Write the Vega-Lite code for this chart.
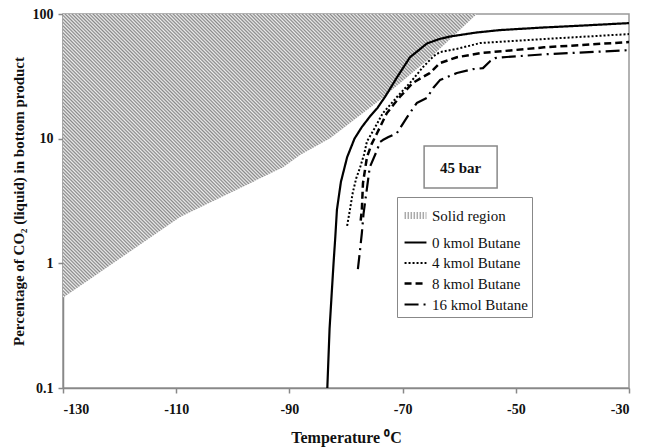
{
"$schema": "https://vega.github.io/schema/vega-lite/v6.json",
"width": 566, "height": 374,
"autosize": {"type": "none"},
"padding": {"left": 63, "top": 14, "right": 22, "bottom": 59},
"background": "white",
"config": {
  "view": {"stroke": "#999", "strokeWidth": 1.5},
  "font": "Liberation Serif",
  "axis": {"domainColor": "#888", "domainWidth": 1.5, "tickColor": "#888", "tickWidth": 1.5, "tickSize": 5, "grid": false,
    "labelFont": "Liberation Serif", "labelFontSize": 14, "labelFontWeight": "bold", "labelColor": "#111",
    "titleFont": "Liberation Serif", "titleFontWeight": "bold", "titleFontSize": 15, "titleColor": "#111"},
  "legend": {"orient": "none", "legendX": 334, "legendY": 183, "symbolType": "stroke", "symbolSize": 480,
    "labelFont": "Liberation Serif", "labelFontSize": 15, "labelColor": "#111", "strokeColor": "#888", "fillColor": "white",
    "padding": 4, "rowPadding": 0, "labelOffset": 2, "title": null}
},
"datasets": {
  "solid": [
    {"T": -130, "pct": 0.53}, {"T": -109.3, "pct": 2.35}, {"T": -91.1, "pct": 5.9}, {"T": -88.1, "pct": 7.4},
    {"T": -82.8, "pct": 10.1}, {"T": -74.0, "pct": 20.4}, {"T": -65, "pct": 45}, {"T": -56.9, "pct": 100}
  ],
  "curves": [
    {"series": "0 kmol  Butane", "T": -83.3, "pct": 0.1}, {"series": "0 kmol  Butane", "T": -82.9, "pct": 0.3},
    {"series": "0 kmol  Butane", "T": -82.5, "pct": 0.6}, {"series": "0 kmol  Butane", "T": -82.2, "pct": 1.0},
    {"series": "0 kmol  Butane", "T": -81.9, "pct": 1.6}, {"series": "0 kmol  Butane", "T": -81.6, "pct": 2.7},
    {"series": "0 kmol  Butane", "T": -80.9, "pct": 4.5}, {"series": "0 kmol  Butane", "T": -79.8, "pct": 7.1},
    {"series": "0 kmol  Butane", "T": -78.5, "pct": 10}, {"series": "0 kmol  Butane", "T": -77.2, "pct": 12.4},
    {"series": "0 kmol  Butane", "T": -75.8, "pct": 15}, {"series": "0 kmol  Butane", "T": -74.5, "pct": 17.5},
    {"series": "0 kmol  Butane", "T": -73, "pct": 22}, {"series": "0 kmol  Butane", "T": -71, "pct": 31},
    {"series": "0 kmol  Butane", "T": -68.7, "pct": 45}, {"series": "0 kmol  Butane", "T": -65.7, "pct": 58},
    {"series": "0 kmol  Butane", "T": -63.5, "pct": 63}, {"series": "0 kmol  Butane", "T": -61.6, "pct": 66},
    {"series": "0 kmol  Butane", "T": -57, "pct": 71}, {"series": "0 kmol  Butane", "T": -52.8, "pct": 74.3},
    {"series": "0 kmol  Butane", "T": -45, "pct": 78}, {"series": "0 kmol  Butane", "T": -40, "pct": 80},
    {"series": "0 kmol  Butane", "T": -30, "pct": 84.5},
    {"series": "4 kmol Butane", "T": -79.8, "pct": 2.0}, {"series": "4 kmol Butane", "T": -79.3, "pct": 2.7},
    {"series": "4 kmol Butane", "T": -78.8, "pct": 3.7}, {"series": "4 kmol Butane", "T": -78.2, "pct": 4.8},
    {"series": "4 kmol Butane", "T": -77.5, "pct": 5.9}, {"series": "4 kmol Butane", "T": -76.8, "pct": 7.5},
    {"series": "4 kmol Butane", "T": -76.3, "pct": 9.5}, {"series": "4 kmol Butane", "T": -75, "pct": 12},
    {"series": "4 kmol Butane", "T": -73.5, "pct": 16}, {"series": "4 kmol Butane", "T": -71, "pct": 21.6},
    {"series": "4 kmol Butane", "T": -68.7, "pct": 28}, {"series": "4 kmol Butane", "T": -66.4, "pct": 37.5},
    {"series": "4 kmol Butane", "T": -64.5, "pct": 46}, {"series": "4 kmol Butane", "T": -63.4, "pct": 49.5},
    {"series": "4 kmol Butane", "T": -60, "pct": 53}, {"series": "4 kmol Butane", "T": -56.3, "pct": 58.5},
    {"series": "4 kmol Butane", "T": -45, "pct": 63}, {"series": "4 kmol Butane", "T": -30, "pct": 69},
    {"series": "8 kmol Butane", "T": -77.4, "pct": 2.2}, {"series": "8 kmol Butane", "T": -77.2, "pct": 2.7},
    {"series": "8 kmol Butane", "T": -77.0, "pct": 4.4}, {"series": "8 kmol Butane", "T": -76.3, "pct": 7.1},
    {"series": "8 kmol Butane", "T": -75.5, "pct": 9}, {"series": "8 kmol Butane", "T": -74.5, "pct": 11.1},
    {"series": "8 kmol Butane", "T": -72.8, "pct": 16}, {"series": "8 kmol Butane", "T": -70.5, "pct": 21.6},
    {"series": "8 kmol Butane", "T": -68.2, "pct": 28}, {"series": "8 kmol Butane", "T": -65.2, "pct": 33.6},
    {"series": "8 kmol Butane", "T": -63.4, "pct": 40.4}, {"series": "8 kmol Butane", "T": -60.4, "pct": 45},
    {"series": "8 kmol Butane", "T": -56.3, "pct": 48.5}, {"series": "8 kmol Butane", "T": -45, "pct": 54},
    {"series": "8 kmol Butane", "T": -30, "pct": 59.6},
    {"series": "16 kmol Butane", "T": -77.9, "pct": 0.9}, {"series": "16 kmol Butane", "T": -77.5, "pct": 1.3},
    {"series": "16 kmol Butane", "T": -77.2, "pct": 1.75}, {"series": "16 kmol Butane", "T": -76.9, "pct": 2.5},
    {"series": "16 kmol Butane", "T": -76.3, "pct": 4}, {"series": "16 kmol Butane", "T": -75.8, "pct": 5.9},
    {"series": "16 kmol Butane", "T": -74.5, "pct": 8.1}, {"series": "16 kmol Butane", "T": -74.0, "pct": 9.4},
    {"series": "16 kmol Butane", "T": -73.5, "pct": 9.75}, {"series": "16 kmol Butane", "T": -72.5, "pct": 10.3},
    {"series": "16 kmol Butane", "T": -71.0, "pct": 11.1}, {"series": "16 kmol Butane", "T": -69.2, "pct": 14.9},
    {"series": "16 kmol Butane", "T": -67.5, "pct": 19.3}, {"series": "16 kmol Butane", "T": -65.7, "pct": 21.2},
    {"series": "16 kmol Butane", "T": -64.6, "pct": 25.5}, {"series": "16 kmol Butane", "T": -63.4, "pct": 29.5},
    {"series": "16 kmol Butane", "T": -60.4, "pct": 33.6}, {"series": "16 kmol Butane", "T": -57.6, "pct": 36.1},
    {"series": "16 kmol Butane", "T": -55.8, "pct": 36.8}, {"series": "16 kmol Butane", "T": -54.5, "pct": 42},
    {"series": "16 kmol Butane", "T": -53.7, "pct": 44.3}, {"series": "16 kmol Butane", "T": -51.6, "pct": 45.2},
    {"series": "16 kmol Butane", "T": -45, "pct": 47.5}, {"series": "16 kmol Butane", "T": -30, "pct": 51.3}
  ],
  "note": [{"T": -66.2, "T2": -53.3, "pct": 8.73, "pct2": 4.02, "Tc": -59.75, "pc": 5.81, "label": "45 bar"}]
},
"layer": [
  {
    "data": {"name": "solid"},
    "mark": {"type": "area", "fill": {"gradient": "linear", "x1": 0, "y1": 1, "x2": 1.146, "y2": 0.214, "stops": [
{"offset":0,"color":"#888"},{"offset":0.0025,"color":"#eee"},{"offset":0.005,"color":"#888"},{"offset":0.0075,"color":"#eee"},
{"offset":0.01,"color":"#888"},{"offset":0.0125,"color":"#eee"},{"offset":0.015,"color":"#888"},{"offset":0.0175,"color":"#eee"},
{"offset":0.02,"color":"#888"},{"offset":0.0225,"color":"#eee"},{"offset":0.025,"color":"#888"},{"offset":0.0275,"color":"#eee"},
{"offset":0.03,"color":"#888"},{"offset":0.0325,"color":"#eee"},{"offset":0.035,"color":"#888"},{"offset":0.0375,"color":"#eee"},
{"offset":0.04,"color":"#888"},{"offset":0.0425,"color":"#eee"},{"offset":0.045,"color":"#888"},{"offset":0.0475,"color":"#eee"},
{"offset":0.05,"color":"#888"},{"offset":0.0525,"color":"#eee"},{"offset":0.055,"color":"#888"},{"offset":0.0575,"color":"#eee"},
{"offset":0.06,"color":"#888"},{"offset":0.0625,"color":"#eee"},{"offset":0.065,"color":"#888"},{"offset":0.0675,"color":"#eee"},
{"offset":0.07,"color":"#888"},{"offset":0.0725,"color":"#eee"},{"offset":0.075,"color":"#888"},{"offset":0.0775,"color":"#eee"},
{"offset":0.08,"color":"#888"},{"offset":0.0825,"color":"#eee"},{"offset":0.085,"color":"#888"},{"offset":0.0875,"color":"#eee"},
{"offset":0.09,"color":"#888"},{"offset":0.0925,"color":"#eee"},{"offset":0.095,"color":"#888"},{"offset":0.0975,"color":"#eee"},
{"offset":0.1,"color":"#888"},{"offset":0.1025,"color":"#eee"},{"offset":0.105,"color":"#888"},{"offset":0.1075,"color":"#eee"},
{"offset":0.11,"color":"#888"},{"offset":0.1125,"color":"#eee"},{"offset":0.115,"color":"#888"},{"offset":0.1175,"color":"#eee"},
{"offset":0.12,"color":"#888"},{"offset":0.1225,"color":"#eee"},{"offset":0.125,"color":"#888"},{"offset":0.1275,"color":"#eee"},
{"offset":0.13,"color":"#888"},{"offset":0.1325,"color":"#eee"},{"offset":0.135,"color":"#888"},{"offset":0.1375,"color":"#eee"},
{"offset":0.14,"color":"#888"},{"offset":0.1425,"color":"#eee"},{"offset":0.145,"color":"#888"},{"offset":0.1475,"color":"#eee"},
{"offset":0.15,"color":"#888"},{"offset":0.1525,"color":"#eee"},{"offset":0.155,"color":"#888"},{"offset":0.1575,"color":"#eee"},
{"offset":0.16,"color":"#888"},{"offset":0.1625,"color":"#eee"},{"offset":0.165,"color":"#888"},{"offset":0.1675,"color":"#eee"},
{"offset":0.17,"color":"#888"},{"offset":0.1725,"color":"#eee"},{"offset":0.175,"color":"#888"},{"offset":0.1775,"color":"#eee"},
{"offset":0.18,"color":"#888"},{"offset":0.1825,"color":"#eee"},{"offset":0.185,"color":"#888"},{"offset":0.1875,"color":"#eee"},
{"offset":0.19,"color":"#888"},{"offset":0.1925,"color":"#eee"},{"offset":0.195,"color":"#888"},{"offset":0.1975,"color":"#eee"},
{"offset":0.2,"color":"#888"},{"offset":0.2025,"color":"#eee"},{"offset":0.205,"color":"#888"},{"offset":0.2075,"color":"#eee"},
{"offset":0.21,"color":"#888"},{"offset":0.2125,"color":"#eee"},{"offset":0.215,"color":"#888"},{"offset":0.2175,"color":"#eee"},
{"offset":0.22,"color":"#888"},{"offset":0.2225,"color":"#eee"},{"offset":0.225,"color":"#888"},{"offset":0.2275,"color":"#eee"},
{"offset":0.23,"color":"#888"},{"offset":0.2325,"color":"#eee"},{"offset":0.235,"color":"#888"},{"offset":0.2375,"color":"#eee"},
{"offset":0.24,"color":"#888"},{"offset":0.2425,"color":"#eee"},{"offset":0.245,"color":"#888"},{"offset":0.2475,"color":"#eee"},
{"offset":0.25,"color":"#888"},{"offset":0.2525,"color":"#eee"},{"offset":0.255,"color":"#888"},{"offset":0.2575,"color":"#eee"},
{"offset":0.26,"color":"#888"},{"offset":0.2625,"color":"#eee"},{"offset":0.265,"color":"#888"},{"offset":0.2675,"color":"#eee"},
{"offset":0.27,"color":"#888"},{"offset":0.2725,"color":"#eee"},{"offset":0.275,"color":"#888"},{"offset":0.2775,"color":"#eee"},
{"offset":0.28,"color":"#888"},{"offset":0.2825,"color":"#eee"},{"offset":0.285,"color":"#888"},{"offset":0.2875,"color":"#eee"},
{"offset":0.29,"color":"#888"},{"offset":0.2925,"color":"#eee"},{"offset":0.295,"color":"#888"},{"offset":0.2975,"color":"#eee"},
{"offset":0.3,"color":"#888"},{"offset":0.3025,"color":"#eee"},{"offset":0.305,"color":"#888"},{"offset":0.3075,"color":"#eee"},
{"offset":0.31,"color":"#888"},{"offset":0.3125,"color":"#eee"},{"offset":0.315,"color":"#888"},{"offset":0.3175,"color":"#eee"},
{"offset":0.32,"color":"#888"},{"offset":0.3225,"color":"#eee"},{"offset":0.325,"color":"#888"},{"offset":0.3275,"color":"#eee"},
{"offset":0.33,"color":"#888"},{"offset":0.3325,"color":"#eee"},{"offset":0.335,"color":"#888"},{"offset":0.3375,"color":"#eee"},
{"offset":0.34,"color":"#888"},{"offset":0.3425,"color":"#eee"},{"offset":0.345,"color":"#888"},{"offset":0.3475,"color":"#eee"},
{"offset":0.35,"color":"#888"},{"offset":0.3525,"color":"#eee"},{"offset":0.355,"color":"#888"},{"offset":0.3575,"color":"#eee"},
{"offset":0.36,"color":"#888"},{"offset":0.3625,"color":"#eee"},{"offset":0.365,"color":"#888"},{"offset":0.3675,"color":"#eee"},
{"offset":0.37,"color":"#888"},{"offset":0.3725,"color":"#eee"},{"offset":0.375,"color":"#888"},{"offset":0.3775,"color":"#eee"},
{"offset":0.38,"color":"#888"},{"offset":0.3825,"color":"#eee"},{"offset":0.385,"color":"#888"},{"offset":0.3875,"color":"#eee"},
{"offset":0.39,"color":"#888"},{"offset":0.3925,"color":"#eee"},{"offset":0.395,"color":"#888"},{"offset":0.3975,"color":"#eee"},
{"offset":0.4,"color":"#888"},{"offset":0.4025,"color":"#eee"},{"offset":0.405,"color":"#888"},{"offset":0.4075,"color":"#eee"},
{"offset":0.41,"color":"#888"},{"offset":0.4125,"color":"#eee"},{"offset":0.415,"color":"#888"},{"offset":0.4175,"color":"#eee"},
{"offset":0.42,"color":"#888"},{"offset":0.4225,"color":"#eee"},{"offset":0.425,"color":"#888"},{"offset":0.4275,"color":"#eee"},
{"offset":0.43,"color":"#888"},{"offset":0.4325,"color":"#eee"},{"offset":0.435,"color":"#888"},{"offset":0.4375,"color":"#eee"},
{"offset":0.44,"color":"#888"},{"offset":0.4425,"color":"#eee"},{"offset":0.445,"color":"#888"},{"offset":0.4475,"color":"#eee"},
{"offset":0.45,"color":"#888"},{"offset":0.4525,"color":"#eee"},{"offset":0.455,"color":"#888"},{"offset":0.4575,"color":"#eee"},
{"offset":0.46,"color":"#888"},{"offset":0.4625,"color":"#eee"},{"offset":0.465,"color":"#888"},{"offset":0.4675,"color":"#eee"},
{"offset":0.47,"color":"#888"},{"offset":0.4725,"color":"#eee"},{"offset":0.475,"color":"#888"},{"offset":0.4775,"color":"#eee"},
{"offset":0.48,"color":"#888"},{"offset":0.4825,"color":"#eee"},{"offset":0.485,"color":"#888"},{"offset":0.4875,"color":"#eee"},
{"offset":0.49,"color":"#888"},{"offset":0.4925,"color":"#eee"},{"offset":0.495,"color":"#888"},{"offset":0.4975,"color":"#eee"},
{"offset":0.5,"color":"#888"},{"offset":0.5025,"color":"#eee"},{"offset":0.505,"color":"#888"},{"offset":0.5075,"color":"#eee"},
{"offset":0.51,"color":"#888"},{"offset":0.5125,"color":"#eee"},{"offset":0.515,"color":"#888"},{"offset":0.5175,"color":"#eee"},
{"offset":0.52,"color":"#888"},{"offset":0.5225,"color":"#eee"},{"offset":0.525,"color":"#888"},{"offset":0.5275,"color":"#eee"},
{"offset":0.53,"color":"#888"},{"offset":0.5325,"color":"#eee"},{"offset":0.535,"color":"#888"},{"offset":0.5375,"color":"#eee"},
{"offset":0.54,"color":"#888"},{"offset":0.5425,"color":"#eee"},{"offset":0.545,"color":"#888"},{"offset":0.5475,"color":"#eee"},
{"offset":0.55,"color":"#888"},{"offset":0.5525,"color":"#eee"},{"offset":0.555,"color":"#888"},{"offset":0.5575,"color":"#eee"},
{"offset":0.56,"color":"#888"},{"offset":0.5625,"color":"#eee"},{"offset":0.565,"color":"#888"},{"offset":0.5675,"color":"#eee"},
{"offset":0.57,"color":"#888"},{"offset":0.5725,"color":"#eee"},{"offset":0.575,"color":"#888"},{"offset":0.5775,"color":"#eee"},
{"offset":0.58,"color":"#888"},{"offset":0.5825,"color":"#eee"},{"offset":0.585,"color":"#888"},{"offset":0.5875,"color":"#eee"},
{"offset":0.59,"color":"#888"},{"offset":0.5925,"color":"#eee"},{"offset":0.595,"color":"#888"},{"offset":0.5975,"color":"#eee"},
{"offset":0.6,"color":"#888"},{"offset":0.6025,"color":"#eee"},{"offset":0.605,"color":"#888"},{"offset":0.6075,"color":"#eee"},
{"offset":0.61,"color":"#888"},{"offset":0.6125,"color":"#eee"},{"offset":0.615,"color":"#888"},{"offset":0.6175,"color":"#eee"},
{"offset":0.62,"color":"#888"},{"offset":0.6225,"color":"#eee"},{"offset":0.625,"color":"#888"},{"offset":0.6275,"color":"#eee"},
{"offset":0.63,"color":"#888"},{"offset":0.6325,"color":"#eee"},{"offset":0.635,"color":"#888"},{"offset":0.6375,"color":"#eee"},
{"offset":0.64,"color":"#888"},{"offset":0.6425,"color":"#eee"},{"offset":0.645,"color":"#888"},{"offset":0.6475,"color":"#eee"},
{"offset":0.65,"color":"#888"},{"offset":0.6525,"color":"#eee"},{"offset":0.655,"color":"#888"},{"offset":0.6575,"color":"#eee"},
{"offset":0.66,"color":"#888"},{"offset":0.6625,"color":"#eee"},{"offset":0.665,"color":"#888"},{"offset":0.6675,"color":"#eee"},
{"offset":0.67,"color":"#888"},{"offset":0.6725,"color":"#eee"},{"offset":0.675,"color":"#888"},{"offset":0.6775,"color":"#eee"},
{"offset":0.68,"color":"#888"},{"offset":0.6825,"color":"#eee"},{"offset":0.685,"color":"#888"},{"offset":0.6875,"color":"#eee"},
{"offset":0.69,"color":"#888"},{"offset":0.6925,"color":"#eee"},{"offset":0.695,"color":"#888"},{"offset":0.6975,"color":"#eee"},
{"offset":0.7,"color":"#888"},{"offset":0.7025,"color":"#eee"},{"offset":0.705,"color":"#888"},{"offset":0.7075,"color":"#eee"},
{"offset":0.71,"color":"#888"},{"offset":0.7125,"color":"#eee"},{"offset":0.715,"color":"#888"},{"offset":0.7175,"color":"#eee"},
{"offset":0.72,"color":"#888"},{"offset":0.7225,"color":"#eee"},{"offset":0.725,"color":"#888"},{"offset":0.7275,"color":"#eee"},
{"offset":0.73,"color":"#888"},{"offset":0.7325,"color":"#eee"},{"offset":0.735,"color":"#888"},{"offset":0.7375,"color":"#eee"},
{"offset":0.74,"color":"#888"},{"offset":0.7425,"color":"#eee"},{"offset":0.745,"color":"#888"},{"offset":0.7475,"color":"#eee"},
{"offset":0.75,"color":"#888"},{"offset":0.7525,"color":"#eee"},{"offset":0.755,"color":"#888"},{"offset":0.7575,"color":"#eee"},
{"offset":0.76,"color":"#888"},{"offset":0.7625,"color":"#eee"},{"offset":0.765,"color":"#888"},{"offset":0.7675,"color":"#eee"},
{"offset":0.77,"color":"#888"},{"offset":0.7725,"color":"#eee"},{"offset":0.775,"color":"#888"},{"offset":0.7775,"color":"#eee"},
{"offset":0.78,"color":"#888"},{"offset":0.7825,"color":"#eee"},{"offset":0.785,"color":"#888"},{"offset":0.7875,"color":"#eee"},
{"offset":0.79,"color":"#888"},{"offset":0.7925,"color":"#eee"},{"offset":0.795,"color":"#888"},{"offset":0.7975,"color":"#eee"},
{"offset":0.8,"color":"#888"},{"offset":0.8025,"color":"#eee"},{"offset":0.805,"color":"#888"},{"offset":0.8075,"color":"#eee"},
{"offset":0.81,"color":"#888"},{"offset":0.8125,"color":"#eee"},{"offset":0.815,"color":"#888"},{"offset":0.8175,"color":"#eee"},
{"offset":0.82,"color":"#888"},{"offset":0.8225,"color":"#eee"},{"offset":0.825,"color":"#888"},{"offset":0.8275,"color":"#eee"},
{"offset":0.83,"color":"#888"},{"offset":0.8325,"color":"#eee"},{"offset":0.835,"color":"#888"},{"offset":0.8375,"color":"#eee"},
{"offset":0.84,"color":"#888"},{"offset":0.8425,"color":"#eee"},{"offset":0.845,"color":"#888"},{"offset":0.8475,"color":"#eee"},
{"offset":0.85,"color":"#888"},{"offset":0.8525,"color":"#eee"},{"offset":0.855,"color":"#888"},{"offset":0.8575,"color":"#eee"},
{"offset":0.86,"color":"#888"},{"offset":0.8625,"color":"#eee"},{"offset":0.865,"color":"#888"},{"offset":0.8675,"color":"#eee"},
{"offset":0.87,"color":"#888"},{"offset":0.8725,"color":"#eee"},{"offset":0.875,"color":"#888"},{"offset":0.8775,"color":"#eee"},
{"offset":0.88,"color":"#888"},{"offset":0.8825,"color":"#eee"},{"offset":0.885,"color":"#888"},{"offset":0.8875,"color":"#eee"},
{"offset":0.89,"color":"#888"},{"offset":0.8925,"color":"#eee"},{"offset":0.895,"color":"#888"},{"offset":0.8975,"color":"#eee"},
{"offset":0.9,"color":"#888"},{"offset":0.9025,"color":"#eee"},{"offset":0.905,"color":"#888"},{"offset":0.9075,"color":"#eee"},
{"offset":0.91,"color":"#888"},{"offset":0.9125,"color":"#eee"},{"offset":0.915,"color":"#888"},{"offset":0.9175,"color":"#eee"},
{"offset":0.92,"color":"#888"},{"offset":0.9225,"color":"#eee"},{"offset":0.925,"color":"#888"},{"offset":0.9275,"color":"#eee"},
{"offset":0.93,"color":"#888"},{"offset":0.9325,"color":"#eee"},{"offset":0.935,"color":"#888"},{"offset":0.9375,"color":"#eee"},
{"offset":0.94,"color":"#888"},{"offset":0.9425,"color":"#eee"},{"offset":0.945,"color":"#888"},{"offset":0.9475,"color":"#eee"},
{"offset":0.95,"color":"#888"},{"offset":0.9525,"color":"#eee"},{"offset":0.955,"color":"#888"},{"offset":0.9575,"color":"#eee"},
{"offset":0.96,"color":"#888"},{"offset":0.9625,"color":"#eee"},{"offset":0.965,"color":"#888"},{"offset":0.9675,"color":"#eee"},
{"offset":0.97,"color":"#888"},{"offset":0.9725,"color":"#eee"},{"offset":0.975,"color":"#888"},{"offset":0.9775,"color":"#eee"},
{"offset":0.98,"color":"#888"},{"offset":0.9825,"color":"#eee"},{"offset":0.985,"color":"#888"},{"offset":0.9875,"color":"#eee"},
{"offset":0.99,"color":"#888"},{"offset":0.9925,"color":"#eee"},{"offset":0.995,"color":"#888"},{"offset":0.9975,"color":"#eee"},
{"offset":1,"color":"#888"}
    ]}},
    "encoding": {
      "x": {"field": "T", "type": "quantitative", "scale": {"domain": [-130, -30], "nice": false},
        "axis": {"values": [-130, -110, -90, -70, -50, -30], "labelExpr": "replace(datum.label, '−', '-')", "title": "Temperature ⁰C", "titleFontSize": 16, "labelPadding": 9, "titlePadding": 13}},
      "y": {"field": "pct", "type": "quantitative", "scale": {"type": "log", "domain": [0.1, 100], "nice": false},
        "axis": {"values": [0.1, 1, 10, 100], "format": "~g", "title": "Percentage of CO₂ (liquid) in bottom product", "labelPadding": 5, "titlePadding": 6}},
      "y2": {"datum": 100}
    }
  },
  {
    "data": {"name": "curves"},
    "mark": {"type": "line", "strokeCap": "butt", "strokeJoin": "round"},
    "encoding": {
      "x": {"field": "T", "type": "quantitative"},
      "y": {"field": "pct", "type": "quantitative"},
      "color": {"field": "series", "type": "nominal",
        "scale": {"domain": ["Solid region", "0 kmol  Butane", "4 kmol Butane", "8 kmol Butane", "16 kmol Butane"],
                  "range": ["#aaa", "#000", "#000", "#000", "#000"]}},
      "strokeDash": {"field": "series", "type": "nominal",
        "scale": {"domain": ["Solid region", "0 kmol  Butane", "4 kmol Butane", "8 kmol Butane", "16 kmol Butane"],
                  "range": [[1.5, 1.5], [1, 0], [2, 2], [7, 4], [14, 5, 2, 5]]}},
      "strokeWidth": {"field": "series", "type": "nominal",
        "scale": {"type": "ordinal", "domain": ["Solid region", "0 kmol  Butane", "4 kmol Butane", "8 kmol Butane", "16 kmol Butane"],
                  "range": [7, 2.2, 2, 2.5, 2.2]}}
    }
  },
  {
    "data": {"name": "note"},
    "mark": {"type": "rect", "fill": "white", "stroke": "#888", "strokeWidth": 1.5},
    "encoding": {
      "x": {"field": "T", "type": "quantitative"}, "x2": {"field": "T2"},
      "y": {"field": "pct", "type": "quantitative"}, "y2": {"field": "pct2"}
    }
  },
  {
    "data": {"name": "note"},
    "mark": {"type": "text", "font": "Liberation Serif", "fontWeight": "bold", "fontSize": 15, "color": "#111", "baseline": "middle", "align": "center"},
    "encoding": {
      "x": {"field": "Tc", "type": "quantitative"},
      "y": {"field": "pc", "type": "quantitative"},
      "text": {"field": "label"}
    }
  }
]
}
